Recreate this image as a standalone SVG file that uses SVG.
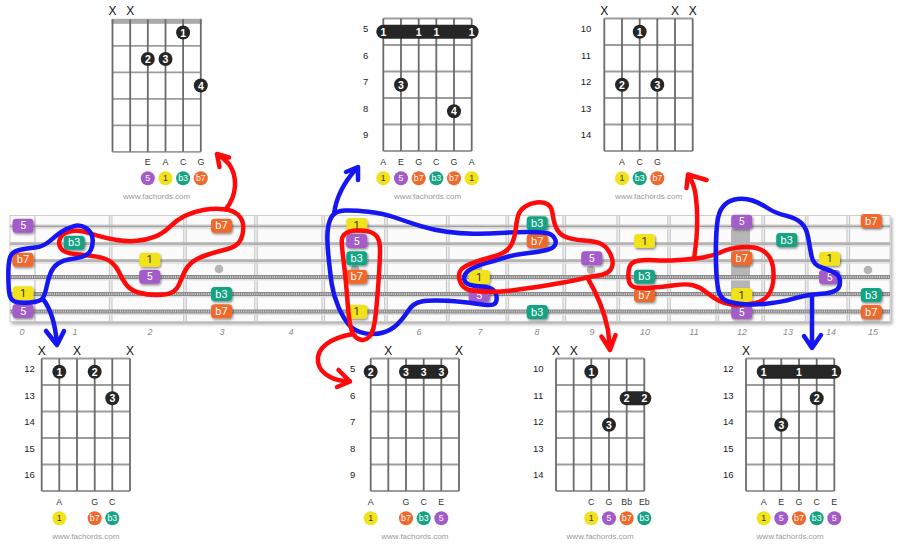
<svg xmlns="http://www.w3.org/2000/svg" width="900" height="555" viewBox="0 0 900 555">
<defs>
<style>
text{font-family:"Liberation Sans",Arial,sans-serif;text-anchor:middle;dominant-baseline:central}
.gv{fill:none;stroke:#6b6b6b;stroke-width:1.8}
.gh{fill:none;stroke:#9c9c9c;stroke-width:1.8}
.dot{fill:#262626}
.dt{fill:#fff;font-size:10.5px;font-weight:bold}
.x{fill:#111;font-size:12px}
.fn{fill:#222;font-size:9.5px}
.nn{fill:#333;font-size:8.8px}
.ct{fill:#fff;font-size:8.8px}
.ck{fill:#333}
.www{fill:#9a9a9a;font-size:8px}
.p{fill:#a35bc8}.y{fill:#f1e21b}.g{fill:#17a383}.o{fill:#f0682a}
.lt{font-family:Roboto,"Liberation Sans",sans-serif;fill:#fff;font-size:11px}
.lk{fill:#333}
.bfn{fill:#8a8a8a;font-size:9px;font-style:italic}
.red{fill:none;stroke:#ff0a0a;stroke-width:4.5;stroke-linecap:round;stroke-linejoin:round}
.blue{fill:none;stroke:#1616f2;stroke-width:4.5;stroke-linecap:round;stroke-linejoin:round}
</style>
<filter id="sh" x="-10%" y="-10%" width="120%" height="130%"><feDropShadow dx="1" dy="1.5" stdDeviation="1" flood-color="#000" flood-opacity="0.45"/></filter>
<filter id="bsh" x="-2%" y="-10%" width="104%" height="125%"><feDropShadow dx="2" dy="2.5" stdDeviation="1.5" flood-color="#000" flood-opacity="0.3"/></filter>
</defs>
<rect width="900" height="555" fill="#fff"/>

<g id="chord-top-1">
<rect x="111.6" y="18.8" width="90.1" height="5" fill="#a9a9a9"/>
<path class="gh" d="M112.5 45.8H200.8M112.5 72.3H200.8M112.5 98.8H200.8M112.5 125.3H200.8M112.5 151.8H200.8"/>
<path class="gv" d="M112.5 19.3V151.8M130.2 19.3V151.8M147.8 19.3V151.8M165.5 19.3V151.8M183.1 19.3V151.8M200.8 19.3V151.8"/>
<text class="x" x="112.5" y="11">X</text><text class="x" x="130.2" y="11">X</text>
<circle class="dot" cx="183.1" cy="32.55" r="7"/><text class="dt" x="183.1" y="32.55">1</text>
<circle class="dot" cx="147.8" cy="59.05" r="7"/><text class="dt" x="147.8" y="59.05">2</text>
<circle class="dot" cx="165.5" cy="59.05" r="7"/><text class="dt" x="165.5" y="59.05">3</text>
<circle class="dot" cx="200.8" cy="85.55" r="7"/><text class="dt" x="200.8" y="85.55">4</text>
<text class="nn" x="147.8" y="162.3">E</text><text class="nn" x="165.5" y="162.3">A</text><text class="nn" x="183.1" y="162.3">C</text><text class="nn" x="200.8" y="162.3">G</text>
<circle class="p" cx="147.8" cy="178.3" r="7"/><text class="ct" x="147.8" y="178.3">5</text>
<circle class="y" cx="165.5" cy="178.3" r="7"/><text class="ct ck" x="165.5" y="178.3">1</text>
<circle class="g" cx="183.1" cy="178.3" r="7"/><text class="ct" x="183.1" y="178.3">b3</text>
<circle class="o" cx="200.8" cy="178.3" r="7"/><text class="ct" x="200.8" y="178.3">b7</text>
<text class="www" x="156.65" y="196.7">www.fachords.com</text>
</g>

<g id="chord-top-2">
<path class="gh" d="M383.3 18.5H471.7M383.3 45H471.7M383.3 71.5H471.7M383.3 98H471.7M383.3 124.5H471.7M383.3 151H471.7"/>
<path class="gv" d="M383.3 18.5V151M401 18.5V151M418.7 18.5V151M436.3 18.5V151M454 18.5V151M471.7 18.5V151"/>
<text class="fn" x="365.7" y="28.75">5</text><text class="fn" x="365.7" y="55.25">6</text><text class="fn" x="365.7" y="81.75">7</text><text class="fn" x="365.7" y="108.25">8</text><text class="fn" x="365.7" y="134.75">9</text>
<rect class="dot" x="376.3" y="24.75" width="102.4" height="14" rx="7"/>
<text class="dt" x="383.3" y="31.75">1</text><text class="dt" x="418.7" y="31.75">1</text><text class="dt" x="436.3" y="31.75">1</text><text class="dt" x="471.7" y="31.75">1</text>
<circle class="dot" cx="401" cy="84.75" r="7"/><text class="dt" x="401" y="84.75">3</text>
<circle class="dot" cx="454" cy="111.25" r="7"/><text class="dt" x="454" y="111.25">4</text>
<text class="nn" x="383.3" y="162.3">A</text><text class="nn" x="401" y="162.3">E</text><text class="nn" x="418.7" y="162.3">G</text><text class="nn" x="436.3" y="162.3">C</text><text class="nn" x="454" y="162.3">G</text><text class="nn" x="471.7" y="162.3">A</text>
<circle class="y" cx="383.3" cy="178.3" r="7"/><text class="ct ck" x="383.3" y="178.3">1</text>
<circle class="p" cx="401" cy="178.3" r="7"/><text class="ct" x="401" y="178.3">5</text>
<circle class="o" cx="418.7" cy="178.3" r="7"/><text class="ct" x="418.7" y="178.3">b7</text>
<circle class="g" cx="436.3" cy="178.3" r="7"/><text class="ct" x="436.3" y="178.3">b3</text>
<circle class="o" cx="454" cy="178.3" r="7"/><text class="ct" x="454" y="178.3">b7</text>
<circle class="y" cx="471.7" cy="178.3" r="7"/><text class="ct ck" x="471.7" y="178.3">1</text>
<text class="www" x="427.5" y="196.7">www.fachords.com</text>
</g>

<g id="chord-top-3">
<path class="gh" d="M604.3 18.5H692.7M604.3 45H692.7M604.3 71.5H692.7M604.3 98H692.7M604.3 124.5H692.7M604.3 151H692.7"/>
<path class="gv" d="M604.3 18.5V151M622 18.5V151M639.7 18.5V151M657.3 18.5V151M675 18.5V151M692.7 18.5V151"/>
<text class="x" x="604.3" y="11">X</text><text class="x" x="675" y="11">X</text><text class="x" x="692.7" y="11">X</text>
<text class="fn" x="586" y="28.75">10</text><text class="fn" x="586" y="55.25">11</text><text class="fn" x="586" y="81.75">12</text><text class="fn" x="586" y="108.25">13</text><text class="fn" x="586" y="134.75">14</text>
<circle class="dot" cx="639.7" cy="31.75" r="7"/><text class="dt" x="639.7" y="31.75">1</text>
<circle class="dot" cx="622" cy="84.75" r="7"/><text class="dt" x="622" y="84.75">2</text>
<circle class="dot" cx="657.3" cy="84.75" r="7"/><text class="dt" x="657.3" y="84.75">3</text>
<text class="nn" x="622" y="162.3">A</text><text class="nn" x="639.7" y="162.3">C</text><text class="nn" x="657.3" y="162.3">G</text>
<circle class="y" cx="622" cy="178.3" r="7"/><text class="ct ck" x="622" y="178.3">1</text>
<circle class="g" cx="639.7" cy="178.3" r="7"/><text class="ct" x="639.7" y="178.3">b3</text>
<circle class="o" cx="657.3" cy="178.3" r="7"/><text class="ct" x="657.3" y="178.3">b7</text>
<text class="www" x="648.5" y="196.7">www.fachords.com</text>
</g>

<g id="chord-bottom-1">
<path class="gh" d="M41.7 358.5H130M41.7 385H130M41.7 411.5H130M41.7 438H130M41.7 464.5H130M41.7 491H130"/>
<path class="gv" d="M41.7 358.5V491M59.3 358.5V491M77 358.5V491M94.7 358.5V491M112.3 358.5V491M130 358.5V491"/>
<text class="x" x="41.7" y="351">X</text><text class="x" x="77" y="351">X</text><text class="x" x="130" y="351">X</text>
<text class="fn" x="29.5" y="368.5">12</text><text class="fn" x="29.5" y="395">13</text><text class="fn" x="29.5" y="421.5">14</text><text class="fn" x="29.5" y="448">15</text><text class="fn" x="29.5" y="474.5">16</text>
<circle class="dot" cx="59.3" cy="371.75" r="7"/><text class="dt" x="59.3" y="371.75">1</text>
<circle class="dot" cx="94.7" cy="371.75" r="7"/><text class="dt" x="94.7" y="371.75">2</text>
<circle class="dot" cx="112.3" cy="398.25" r="7"/><text class="dt" x="112.3" y="398.25">3</text>
<text class="nn" x="59.3" y="502.3">A</text><text class="nn" x="94.7" y="502.3">G</text><text class="nn" x="112.3" y="502.3">C</text>
<circle class="y" cx="59.3" cy="518.3" r="7"/><text class="ct ck" x="59.3" y="518.3">1</text>
<circle class="o" cx="94.7" cy="518.3" r="7"/><text class="ct" x="94.7" y="518.3">b7</text>
<circle class="g" cx="112.3" cy="518.3" r="7"/><text class="ct" x="112.3" y="518.3">b3</text>
<text class="www" x="85.85" y="536.7">www.fachords.com</text>
</g>

<g id="chord-bottom-2">
<path class="gh" d="M370.7 358.5H459M370.7 385H459M370.7 411.5H459M370.7 438H459M370.7 464.5H459M370.7 491H459"/>
<path class="gv" d="M370.7 358.5V491M388.3 358.5V491M406 358.5V491M423.7 358.5V491M441.3 358.5V491M459 358.5V491"/>
<text class="x" x="388.3" y="351">X</text><text class="x" x="459" y="351">X</text>
<text class="fn" x="352.7" y="368.5">5</text><text class="fn" x="352.7" y="395">6</text><text class="fn" x="352.7" y="421.5">7</text><text class="fn" x="352.7" y="448">8</text><text class="fn" x="352.7" y="474.5">9</text>
<circle class="dot" cx="370.7" cy="371.75" r="7"/><text class="dt" x="370.7" y="371.75">2</text>
<rect class="dot" x="399" y="364.75" width="49.3" height="14" rx="7"/>
<text class="dt" x="406" y="371.75">3</text><text class="dt" x="423.7" y="371.75">3</text><text class="dt" x="441.3" y="371.75">3</text>
<text class="nn" x="370.7" y="502.3">A</text><text class="nn" x="406" y="502.3">G</text><text class="nn" x="423.7" y="502.3">C</text><text class="nn" x="441.3" y="502.3">E</text>
<circle class="y" cx="370.7" cy="518.3" r="7"/><text class="ct ck" x="370.7" y="518.3">1</text>
<circle class="o" cx="406" cy="518.3" r="7"/><text class="ct" x="406" y="518.3">b7</text>
<circle class="g" cx="423.7" cy="518.3" r="7"/><text class="ct" x="423.7" y="518.3">b3</text>
<circle class="p" cx="441.3" cy="518.3" r="7"/><text class="ct" x="441.3" y="518.3">5</text>
<text class="www" x="414.85" y="536.7">www.fachords.com</text>
</g>

<g id="chord-bottom-3">
<path class="gh" d="M556 358.5H644.3M556 385H644.3M556 411.5H644.3M556 438H644.3M556 464.5H644.3M556 491H644.3"/>
<path class="gv" d="M556 358.5V491M573.7 358.5V491M591.3 358.5V491M609 358.5V491M626.7 358.5V491M644.3 358.5V491"/>
<text class="x" x="556" y="351">X</text><text class="x" x="573.7" y="351">X</text>
<text class="fn" x="538.3" y="368.5">10</text><text class="fn" x="538.3" y="395">11</text><text class="fn" x="538.3" y="421.5">12</text><text class="fn" x="538.3" y="448">13</text><text class="fn" x="538.3" y="474.5">14</text>
<circle class="dot" cx="591.3" cy="371.75" r="7"/><text class="dt" x="591.3" y="371.75">1</text>
<rect class="dot" x="619.7" y="391.25" width="31.6" height="14" rx="7"/>
<text class="dt" x="626.7" y="398.25">2</text><text class="dt" x="644.3" y="398.25">2</text>
<circle class="dot" cx="609" cy="424.75" r="7"/><text class="dt" x="609" y="424.75">3</text>
<text class="nn" x="591.3" y="502.3">C</text><text class="nn" x="609" y="502.3">G</text><text class="nn" x="626.7" y="502.3">Bb</text><text class="nn" x="644.3" y="502.3">Eb</text>
<circle class="y" cx="591.3" cy="518.3" r="7"/><text class="ct ck" x="591.3" y="518.3">1</text>
<circle class="p" cx="609" cy="518.3" r="7"/><text class="ct" x="609" y="518.3">5</text>
<circle class="o" cx="626.7" cy="518.3" r="7"/><text class="ct" x="626.7" y="518.3">b7</text>
<circle class="g" cx="644.3" cy="518.3" r="7"/><text class="ct" x="644.3" y="518.3">b3</text>
<text class="www" x="600.15" y="536.7">www.fachords.com</text>
</g>

<g id="chord-bottom-4">
<path class="gh" d="M746 358.5H834.3M746 385H834.3M746 411.5H834.3M746 438H834.3M746 464.5H834.3M746 491H834.3"/>
<path class="gv" d="M746 358.5V491M763.7 358.5V491M781.3 358.5V491M799 358.5V491M816.7 358.5V491M834.3 358.5V491"/>
<text class="x" x="746" y="351">X</text>
<text class="fn" x="728.3" y="368.5">12</text><text class="fn" x="728.3" y="395">13</text><text class="fn" x="728.3" y="421.5">14</text><text class="fn" x="728.3" y="448">15</text><text class="fn" x="728.3" y="474.5">16</text>
<rect class="dot" x="756.7" y="364.75" width="84.6" height="14" rx="7"/>
<text class="dt" x="763.7" y="371.75">1</text><text class="dt" x="799" y="371.75">1</text><text class="dt" x="834.3" y="371.75">1</text>
<circle class="dot" cx="816.7" cy="398.25" r="7"/><text class="dt" x="816.7" y="398.25">2</text>
<circle class="dot" cx="781.3" cy="424.75" r="7"/><text class="dt" x="781.3" y="424.75">3</text>
<text class="nn" x="763.7" y="502.3">A</text><text class="nn" x="781.3" y="502.3">E</text><text class="nn" x="799" y="502.3">G</text><text class="nn" x="816.7" y="502.3">C</text><text class="nn" x="834.3" y="502.3">E</text>
<circle class="y" cx="763.7" cy="518.3" r="7"/><text class="ct ck" x="763.7" y="518.3">1</text>
<circle class="p" cx="781.3" cy="518.3" r="7"/><text class="ct" x="781.3" y="518.3">5</text>
<circle class="o" cx="799" cy="518.3" r="7"/><text class="ct" x="799" y="518.3">b7</text>
<circle class="g" cx="816.7" cy="518.3" r="7"/><text class="ct" x="816.7" y="518.3">b3</text>
<circle class="p" cx="834.3" cy="518.3" r="7"/><text class="ct" x="834.3" y="518.3">5</text>
<text class="www" x="790.15" y="536.7">www.fachords.com</text>
</g>

<g id="fretboard">
<rect x="10" y="215.5" width="880" height="106" fill="#fbfbfb" stroke="#cdcdcd" stroke-width="1" filter="url(#bsh)"/>
<path d="M35 216V321" stroke="#d0d0d0" stroke-width="1.5"/>
<path d="M110.7 216V321M185 216V321M256 216V321M323.3 216V321M386 216V321M447.7 216V321M507.3 216V321M564.3 216V321M618.3 216V321M669 216V321M717.3 216V321M763.3 216V321M806.7 216V321M848.3 216V321" stroke="#c4c4c4" stroke-width="3.6"/>
<path d="M110.7 216V321M185 216V321M256 216V321M323.3 216V321M386 216V321M447.7 216V321M507.3 216V321M564.3 216V321M618.3 216V321M669 216V321M717.3 216V321M763.3 216V321M806.7 216V321M848.3 216V321" stroke="#efefef" stroke-width="1.6"/>
<g fill="#b5b5b5"><circle cx="219" cy="269" r="4.3"/><circle cx="355" cy="269" r="4.3"/><circle cx="478" cy="269" r="4.3"/><circle cx="591" cy="270" r="4.3"/><circle cx="868" cy="270" r="4.3"/></g>
<rect x="731" y="228" width="19" height="76" fill="#9f9f9f" opacity="0.75"/>
<path d="M10 228.5H890M10 246H890M10 263H890M10 279.8H890M10 296.8H890M10 314.3H890" stroke="#dedede" stroke-width="1.6"/>
<path d="M10 226H890M10 243.5H890M10 260.5H890" stroke="#9a9a9a" stroke-width="2.4"/>
<path d="M10 225.6H890M10 243.1H890M10 260.1H890" stroke="#e2e2e2" stroke-width="0.7"/>
<path d="M10 277H890M10 294H890M10 311.5H890" stroke="#8a8a8a" stroke-width="3.8"/>
<path d="M10 277H890M10 294H890M10 311.5H890" stroke="#cfcfcf" stroke-width="2.2" stroke-dasharray="1 1.2"/>
<g filter="url(#sh)">
<rect class="p" x="12.5" y="218.7" width="21" height="14" rx="3.5"/>
<rect class="o" x="12.5" y="252.7" width="21" height="14" rx="3.5"/>
<rect class="y" x="12.5" y="286.3" width="21" height="14" rx="3.5"/>
<rect class="p" x="12.5" y="304" width="21" height="14" rx="3.5"/>
<rect class="g" x="63.7" y="235.8" width="21" height="14" rx="3.5"/>
<rect class="y" x="139.2" y="252.7" width="21" height="14" rx="3.5"/>
<rect class="p" x="139.2" y="269.7" width="21" height="14" rx="3.5"/>
<rect class="o" x="211" y="218.7" width="21" height="14" rx="3.5"/>
<rect class="g" x="211" y="287" width="21" height="14" rx="3.5"/>
<rect class="o" x="211" y="304.3" width="21" height="14" rx="3.5"/>
<rect class="y" x="346.2" y="218" width="21" height="14" rx="3.5"/>
<rect class="p" x="346.2" y="234" width="21" height="14" rx="3.5"/>
<rect class="g" x="346.2" y="251.3" width="21" height="14" rx="3.5"/>
<rect class="o" x="346.2" y="269.7" width="21" height="14" rx="3.5"/>
<rect class="y" x="346.2" y="304.7" width="21" height="14" rx="3.5"/>
<rect class="y" x="468.7" y="270" width="21" height="14" rx="3.5"/>
<rect class="p" x="468.7" y="288" width="21" height="14" rx="3.5"/>
<rect class="g" x="526.7" y="216.3" width="21" height="14" rx="3.5"/>
<rect class="o" x="526.7" y="234" width="21" height="14" rx="3.5"/>
<rect class="g" x="526.7" y="305" width="21" height="14" rx="3.5"/>
<rect class="p" x="581.2" y="251.3" width="21" height="14" rx="3.5"/>
<rect class="y" x="634" y="234" width="21" height="14" rx="3.5"/>
<rect class="g" x="634" y="269.7" width="21" height="14" rx="3.5"/>
<rect class="o" x="634" y="288" width="21" height="14" rx="3.5"/>
<rect class="p" x="731.2" y="214.7" width="21" height="14" rx="3.5"/>
<rect class="o" x="731.2" y="251.3" width="21" height="14" rx="3.5"/>
<rect class="y" x="731.2" y="288" width="21" height="14" rx="3.5"/>
<rect class="p" x="731.2" y="305" width="21" height="14" rx="3.5"/>
<rect class="g" x="776.2" y="233" width="21" height="14" rx="3.5"/>
<rect class="y" x="819" y="251.8" width="21" height="14" rx="3.5"/>
<rect class="p" x="819" y="270" width="21" height="14" rx="3.5"/>
<rect class="o" x="860.8" y="214" width="21" height="14" rx="3.5"/>
<rect class="g" x="860.8" y="288" width="21" height="14" rx="3.5"/>
<rect class="o" x="860.8" y="305" width="21" height="14" rx="3.5"/>
</g>
<text class="lt" x="23" y="225.7">5</text>
<text class="lt" x="23" y="259.7">b7</text>
<text class="lt lk" x="23" y="293.3">1</text>
<text class="lt" x="23" y="311">5</text>
<text class="lt" x="74.2" y="242.8">b3</text>
<text class="lt lk" x="149.7" y="259.7">1</text>
<text class="lt" x="149.7" y="276.7">5</text>
<text class="lt" x="221.5" y="225.7">b7</text>
<text class="lt" x="221.5" y="294">b3</text>
<text class="lt" x="221.5" y="311.3">b7</text>
<text class="lt lk" x="356.7" y="225">1</text>
<text class="lt" x="356.7" y="241">5</text>
<text class="lt" x="356.7" y="258.3">b3</text>
<text class="lt" x="356.7" y="276.7">b7</text>
<text class="lt lk" x="356.7" y="311.7">1</text>
<text class="lt lk" x="479.2" y="277">1</text>
<text class="lt" x="479.2" y="295">5</text>
<text class="lt" x="537.2" y="223.3">b3</text>
<text class="lt" x="537.2" y="241">b7</text>
<text class="lt" x="537.2" y="312">b3</text>
<text class="lt" x="591.7" y="258.3">5</text>
<text class="lt lk" x="644.5" y="241">1</text>
<text class="lt" x="644.5" y="276.7">b3</text>
<text class="lt" x="644.5" y="295">b7</text>
<text class="lt" x="741.7" y="221.7">5</text>
<text class="lt" x="741.7" y="258.3">b7</text>
<text class="lt lk" x="741.7" y="295">1</text>
<text class="lt" x="741.7" y="312">5</text>
<text class="lt" x="786.7" y="240">b3</text>
<text class="lt lk" x="829.5" y="258.8">1</text>
<text class="lt" x="829.5" y="277">5</text>
<text class="lt" x="871.3" y="221">b7</text>
<text class="lt" x="871.3" y="295">b3</text>
<text class="lt" x="871.3" y="312">b7</text>
<text class="bfn" x="22" y="332">0</text><text class="bfn" x="75" y="332">1</text><text class="bfn" x="150" y="332">2</text><text class="bfn" x="222" y="332">3</text><text class="bfn" x="291" y="332">4</text><text class="bfn" x="355" y="332">5</text><text class="bfn" x="419" y="332">6</text><text class="bfn" x="480" y="332">7</text><text class="bfn" x="537" y="332">8</text><text class="bfn" x="592" y="332">9</text><text class="bfn" x="645" y="332">10</text><text class="bfn" x="694" y="332">11</text><text class="bfn" x="742" y="332">12</text><text class="bfn" x="788" y="332">13</text><text class="bfn" x="831" y="332">14</text><text class="bfn" x="873" y="332">15</text>
</g>

<g id="connectors">
<path class="red" d="M70,231.65 Q76.7,230 83.35,231.65 Q90,233.3 98.35,235.8 Q106.7,238.3 116.7,240 Q126.7,241.7 136.7,240.85 Q146.7,240 155,236.65 Q163.3,233.3 170,226.65 Q176.7,220 185,215.85 Q193.3,211.7 203.3,210 Q213.3,208.3 223.3,209.15 Q233.3,210 238.3,215 Q243.3,220 243.3,227.5 Q243.3,235 240,240.85 Q236.7,246.7 226.7,249.2 Q216.7,251.7 206.7,255 Q196.7,258.3 191.7,262.5 Q186.7,266.7 184.2,272.5 Q181.7,278.3 179.2,284.15 Q176.7,290 171.7,292.5 Q166.7,295 156.7,295 Q146.7,295 138.35,292.5 Q130,290 125.85,284.15 Q121.7,278.3 119.2,272.5 Q116.7,266.7 111.7,262.5 Q106.7,258.3 96.7,256.65 Q86.7,255 76.7,254.15 Q66.7,253.3 63.35,250.8 Q60,248.3 59.25,244.4 Q58.5,240.5 60.9,236.9 Q63.3,233.3 70,231.65 Z"/>
<path class="red" d="M226,209 C237,195 238,177 229,164 Q224,158 217,154 M229,157.5 L217,154 L219.5,167"/>
<path class="blue" d="M85.85,228 Q91.7,231.7 92.5,238.35 Q93.3,245 90.8,250 Q88.3,255 82.5,256.65 Q76.7,258.3 70,259.15 Q63.3,260 58.3,263.35 Q53.3,266.7 50.8,272.5 Q48.3,278.3 46.65,286.65 Q45,295 42.5,298.35 Q40,301.7 30,302.5 Q20,303.3 15,301.65 Q10,300 9.15,292.5 Q8.3,285 8.3,274.15 Q8.3,263.3 10,257.5 Q11.7,251.7 19.2,250 Q26.7,248.3 35,247.5 Q43.3,246.7 50,240.85 Q56.7,235 61.7,231.65 Q66.7,228.3 73.35,226.3 Q80,224.3 85.85,228 Z"/>
<path class="blue" d="M43,299 C50,308 55,320 57,344 M46,331 L57,345 L64,331"/>
<path class="blue" d="M344.65,210.5 Q353.3,210 368.3,211.65 Q383.3,213.3 395,217.5 Q406.7,221.7 420,225.85 Q433.3,230 446.65,231.75 Q460,233.5 473.35,233.75 Q486.7,234 500,233 Q513.3,232 526.65,232 Q540,232 546,233 Q552,234 554.35,237.85 Q556.7,241.7 555,245 Q553.3,248.3 546.65,250 Q540,251.7 526.65,253.35 Q513.3,255 505,257.5 Q496.7,260 485,263.35 Q473.3,266.7 468.3,270.85 Q463.3,275 464.15,279.15 Q465,283.3 469.15,284.65 Q473.3,286 481.65,286.5 Q490,287 493.35,290.15 Q496.7,293.3 496.7,298.3 Q496.7,303.3 493.35,304.5 Q490,305.7 476.65,303.7 Q463.3,301.7 446.65,300.85 Q430,300 421.65,301.5 Q413.3,303 408.3,310.65 Q403.3,318.3 397.5,324.15 Q391.7,330 383.35,332.5 Q375,335 365,333.35 Q355,331.7 349.15,325 Q343.3,318.3 338.3,306.65 Q333.3,295 331.65,283.35 Q330,271.7 328.35,255 Q326.7,238.3 327.85,229.15 Q329,220 332.5,215.5 Q336,211 344.65,210.5 Z"/>
<path class="blue" d="M334,214 C336,198 344,182 357,168 M346,172 L358,167 L358,180"/>
<path class="red" d="M345,233.85 Q348.3,231 355.8,230.5 Q363.3,230 369.15,231.65 Q375,233.3 377.5,237.5 Q380,241.7 380,250 Q380,258.3 379.15,271.65 Q378.3,285 377.5,295 Q376.7,305 375.85,313.35 Q375,321.7 373.5,327.85 Q372,334 368.5,337.5 Q365,341 360,339.5 Q355,338 352.5,332.5 Q350,327 348.85,316 Q347.7,305 346.85,293.35 Q346,281.7 344.65,270 Q343.3,258.3 342.5,251.65 Q341.7,245 341.7,240.85 Q341.7,236.7 345,233.85 Z"/>
<path class="red" d="M353,334 C330,338 316,348 318,362 C320,375 335,381 350,381.5 M338.5,370 L350,381.5 L337,387"/>
<path class="red" d="M463.35,286.65 Q460,283.3 459.15,278.3 Q458.3,273.3 460.8,270 Q463.3,266.7 471.65,263.35 Q480,260 490,257.5 Q500,255 505,251.65 Q510,248.3 512.5,242.5 Q515,236.7 515.85,228.35 Q516.7,220 518.35,215 Q520,210 525,206.65 Q530,203.3 536.65,202.5 Q543.3,201.7 547.5,204.2 Q551.7,206.7 552.5,213.35 Q553.3,220 555,225 Q556.7,230 560,233.35 Q563.3,236.7 570,238.35 Q576.7,240 586.7,240.85 Q596.7,241.7 601.7,244.2 Q606.7,246.7 610,253.35 Q613.3,260 612.5,265 Q611.7,270 607.5,272.5 Q603.3,275 596.65,275.85 Q590,276.7 583.35,278.35 Q576.7,280 563.35,282.5 Q550,285 538.35,286.65 Q526.7,288.3 515,290 Q503.3,291.7 491.65,291.7 Q480,291.7 473.35,290.85 Q466.7,290 463.35,286.65 Z"/>
<path class="red" d="M587,277 C596,292 604,310 608,330 L610,349 M601.5,336.5 L610,350 L615.5,335"/>
<path class="red" d="M629.5,267 Q631,262 638,260.75 Q645,259.5 655,260.25 Q665,261 679,260 Q693,259 703,257.5 Q713,256 721.5,252 Q730,248 741.5,247.25 Q753,246.5 760,249.25 Q767,252 770.5,259 Q774,266 773.5,277.5 Q773,289 768,295.5 Q763,302 751.5,303.75 Q740,305.5 732.5,304.75 Q725,304 718.5,300.5 Q712,297 706,292 Q700,287 693,285.25 Q686,283.5 674.5,285.25 Q663,287 650.5,287.75 Q638,288.5 633.5,286.75 Q629,285 628.5,278.5 Q628,272 629.5,267 Z"/>
<path class="red" d="M694,259 C697,240 698,215 696,198 C695,188 692,180 688,175 M686.5,188 L688,174.5 L706.5,180"/>
<path class="blue" d="M716.1,268.35 Q715.5,255 716,240 Q716.5,225 718.25,217 Q720,209 725,204.5 Q730,200 737.5,199 Q745,198 752.5,200.5 Q760,203 767.5,208 Q775,213 785.85,215.65 Q796.7,218.3 801.7,223.3 Q806.7,228.3 808.35,238.3 Q810,248.3 811.65,256.65 Q813.3,265 821.65,267.5 Q830,270 835,273 Q840,276 840,282.15 Q840,288.3 835,290.8 Q830,293.3 821.65,293.8 Q813.3,294.3 806.65,295.5 Q800,296.7 791.65,299.2 Q783.3,301.7 770,303.35 Q756.7,305 745,304.15 Q733.3,303.3 726.65,300.8 Q720,298.3 718.35,290 Q716.7,281.7 716.1,268.35 Z"/>
<path class="blue" d="M812,295 L812,347 M804,336 L812,348 L821,335"/>
</g>
</svg>
